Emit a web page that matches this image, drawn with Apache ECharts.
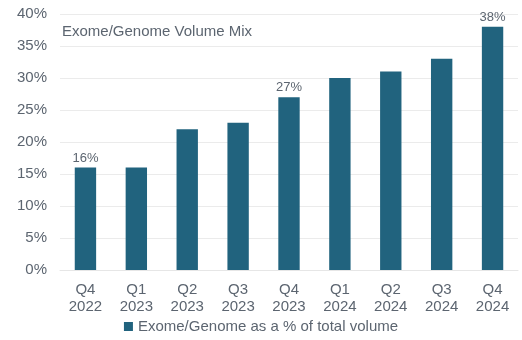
<!DOCTYPE html>
<html><head><meta charset="utf-8">
<script src="https://cdn.jsdelivr.net/npm/echarts@6/dist/echarts.min.js"></script>
<style>html,body{margin:0;padding:0;background:#fff}#c{width:522px;height:340px}</style>
</head><body><div id="c"></div>
<script>
const categories = ['Q4\n2022','Q1\n2023','Q2\n2023','Q3\n2023','Q4\n2023','Q1\n2024','Q2\n2024','Q3\n2024','Q4\n2024'];
const values = [16,16,22,23,27,30,31,33,38];
const labeledIndices = [0,4,8];
const seriesName = 'Exome/Genome as a % of total volume';
const titleText = 'Exome/Genome Volume Mix';

const chart = echarts.init(document.getElementById('c'));
const gray = '#5c6570';
chart.setOption({
  animation:false,
  title:{text:titleText,left:57,top:19,textStyle:{fontFamily:'Liberation Sans',fontSize:15,fontWeight:'normal',color:gray}},
  grid:{left:60,right:4,top:14,bottom:70},
  legend:{bottom:1,left:'center',itemWidth:9,itemHeight:9,icon:'rect',itemGap:6,
    textStyle:{fontFamily:'Liberation Sans',fontSize:15,color:gray}},
  xAxis:{type:'category',data:categories,axisTick:{show:false},
    axisLine:{lineStyle:{color:'#e6e6e6'}},
    axisLabel:{fontFamily:'Liberation Sans',fontSize:15,color:gray,lineHeight:17,margin:11}},
  yAxis:{type:'value',min:0,max:40,interval:5,
    axisLabel:{formatter:'{value}%',fontFamily:'Liberation Sans',fontSize:15,color:gray,margin:13},
    splitLine:{lineStyle:{color:'#ebebeb'}}},
  series:[{name:seriesName,type:'bar',barWidth:'42%',
    itemStyle:{color:'#21637e'},
    data:values.map((v,i)=>({value:v,label:{show:labeledIndices.includes(i)}})),
    label:{position:'top',formatter:'{c}%',fontFamily:'Liberation Sans',fontSize:13,color:gray,distance:3}}]
});
</script></body></html>
